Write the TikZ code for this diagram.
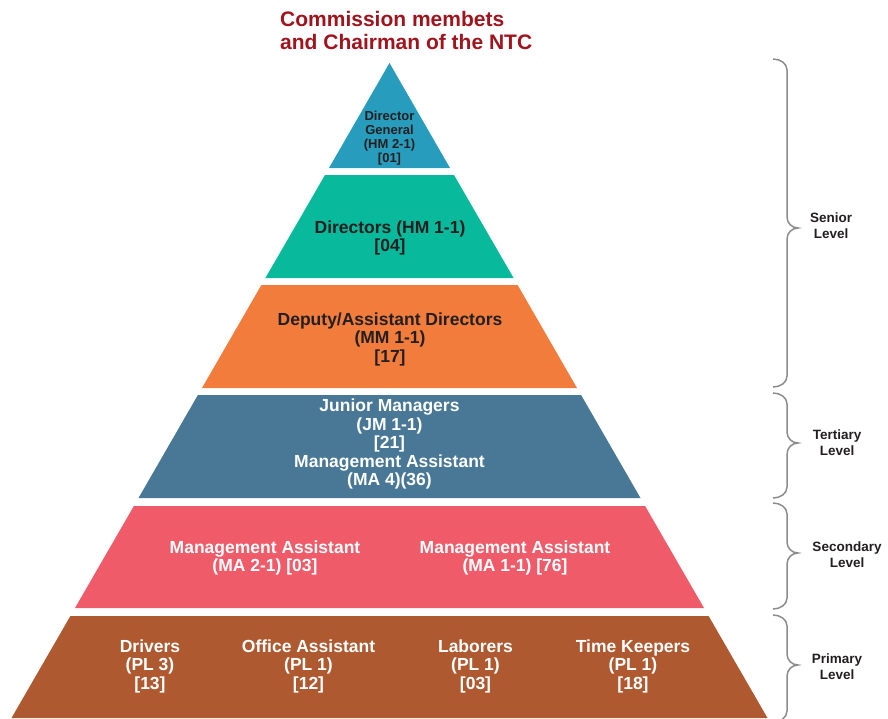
\documentclass[tikz,border=0pt]{standalone}
\usepackage{fontspec}
\setmainfont{Liberation Sans}
\definecolor{cT1}{HTML}{279CBC}
\definecolor{cT2}{HTML}{08B99B}
\definecolor{cT3}{HTML}{F27C3C}
\definecolor{cT4}{HTML}{487895}
\definecolor{cT5}{HTML}{EF5B69}
\definecolor{cT6}{HTML}{AE5930}
\definecolor{titlered}{HTML}{A0141E}
\definecolor{darktext}{HTML}{231F20}
\definecolor{bracegray}{HTML}{8C8C8C}
\newcommand{\levelbrace}[3]{%
  \draw[bracegray, line width=1.5pt]
    (773,#1) to[out=0,in=90] (787,#1+11) -- (787,#2-11)
    to[out=-90,in=180] (798,#2) to[out=180,in=90] (787,#2+11)
    -- (787,#3-11) to[out=-90,in=0] (773,#3);}
\begin{document}
\begin{tikzpicture}[x=1pt,y=-1pt,
  darklbl/.style={font=\fontsize{17.5}{18.5}\selectfont\bfseries, text=darktext, align=center, inner sep=0pt},
  whitelbl/.style={font=\fontsize{17.5}{18.5}\selectfont\bfseries, text=white, align=center, inner sep=0pt},
  levellbl/.style={font=\fontsize{13.5}{16}\selectfont\bfseries, text=darktext, align=center, inner sep=0pt}]
\useasboundingbox (0,0) rectangle (888,718);
% tiers
\fill[cT1] (389.5,63) -- (450,168) -- (329,168) -- cycle;
\fill[cT2] (325,175) -- (454,175) -- (513.6,278) -- (265.4,278) -- cycle;
\fill[cT3] (261.4,285) -- (517.6,285) -- (577,388) -- (202,388) -- cycle;
\fill[cT4] (197.9,395) -- (581.1,395) -- (640.5,498) -- (138.5,498) -- cycle;
\fill[cT5] (133.9,506) -- (645.1,506) -- (704,608) -- (75,608) -- cycle;
\fill[cT6] (70.4,616) -- (708.6,616) -- (767.5,718) -- (11.5,718) -- cycle;
% title
\node[anchor=north west, align=left, inner sep=0pt, text=titlered,
  font=\fontsize{21}{23}\selectfont\bfseries] (title) at (280,11)
  {Commission membets\\and Chairman of the NTC};
% tier labels
\node[darklbl, font=\fontsize{13}{14}\selectfont\bfseries] (t1) at (389.5,138)
  {Director\\General\\(HM 2-1)\\{}[01]};
\node[darklbl] (t2) at (390,238) {Directors (HM 1-1)\\{}[04]};
\node[darklbl] (t3) at (390,339) {Deputy/Assistant Directors\\(MM 1-1)\\{}[17]};
\node[whitelbl] (t4) at (389.5,444) {Junior Managers\\(JM 1-1)\\{}[21]\\Management Assistant\\(MA 4)(36)};
\node[whitelbl] (t5a) at (265,558) {Management Assistant\\(MA 2-1) [03]};
\node[whitelbl] (t5b) at (515,558) {Management Assistant\\(MA 1-1) [76]};
\node[whitelbl] (t6a) at (150,666) {Drivers\\(PL 3)\\{}[13]};
\node[whitelbl] (t6b) at (308.5,666) {Office Assistant\\(PL 1)\\{}[12]};
\node[whitelbl] (t6c) at (475.5,666) {Laborers\\(PL 1)\\{}[03]};
\node[whitelbl] (t6d) at (633,666) {Time Keepers\\(PL 1)\\{}[18]};
% braces
\levelbrace{59}{228}{387}
\levelbrace{393}{443}{498}
\levelbrace{503}{553}{609}
\levelbrace{615}{665}{722}
\node[levellbl] (senior) at (831,226) {Senior\\Level};
\node[levellbl] (tertiary) at (837,443) {Tertiary\\Level};
\node[levellbl] (secondary) at (847,555) {Secondary\\Level};
\node[levellbl] (primary) at (837,667) {Primary\\Level};
\end{tikzpicture}
\end{document}
